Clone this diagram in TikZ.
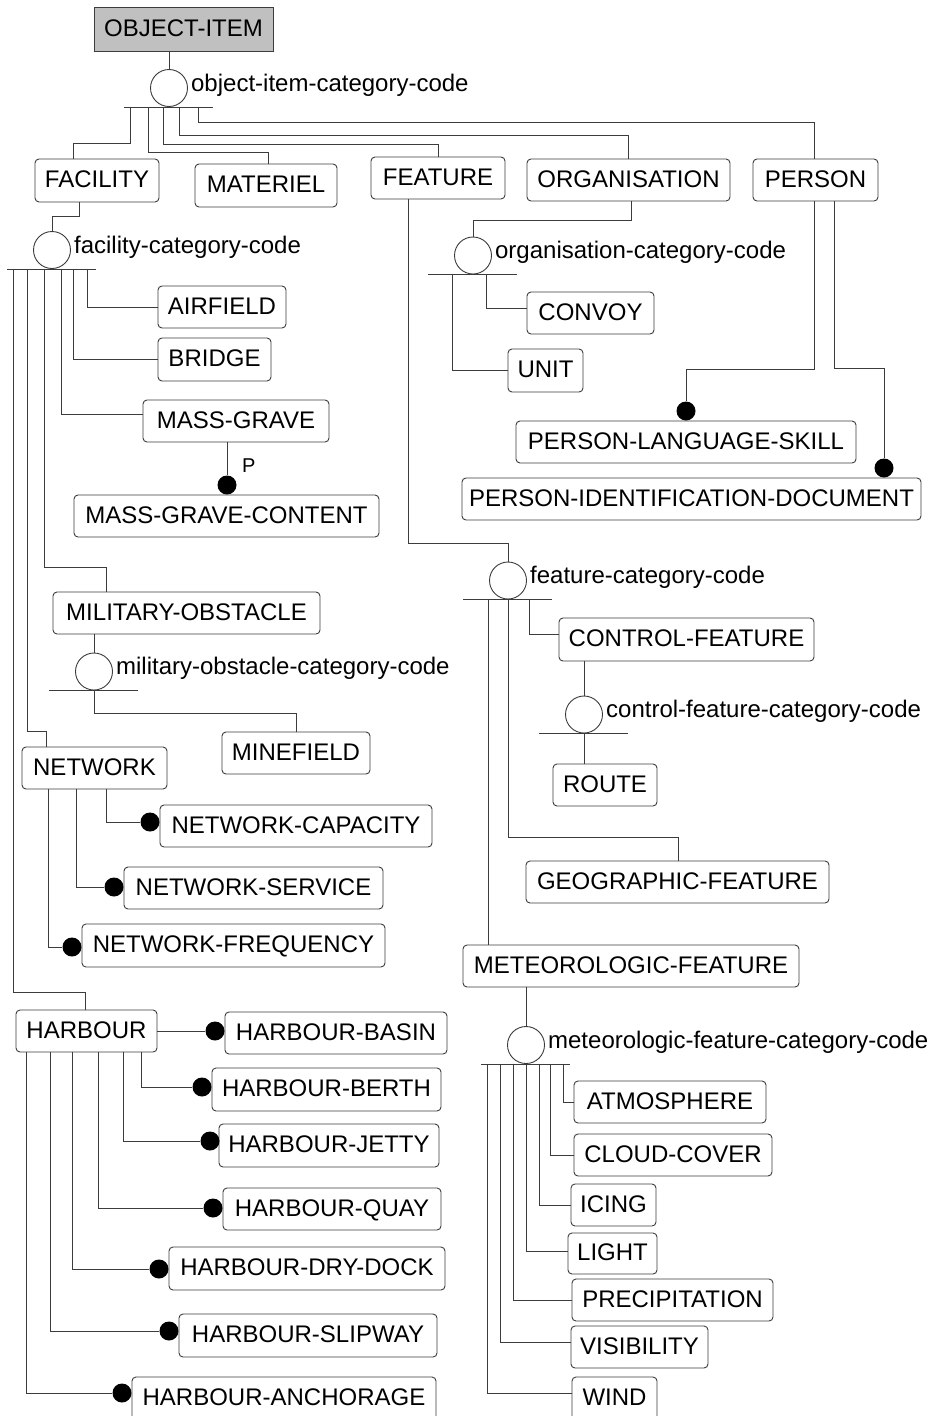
\documentclass[tikz,border=0pt]{standalone}
\usepackage{fontspec}
\setmainfont{Liberation Sans}
\definecolor{edge}{RGB}{60,60,60}
\definecolor{rootfill}{RGB}{192,192,192}
\tikzset{
  conn/.style={draw=edge, line width=0.9pt},
  ent/.style={draw=edge, line width=0.9pt, rounded corners=4pt, inner sep=0pt,
    text height=17.2pt, text depth=3pt, font=\fontsize{24}{28}\selectfont, fill=white},
  root/.style={ent, sharp corners, fill=rootfill},
  catc/.style={circle, draw=edge, line width=0.9pt, minimum size=37pt, inner sep=0pt, fill=white},
  catlabel/.style={anchor=base west, inner sep=0pt, font=\fontsize{24}{28}\selectfont},
  dot/.style={circle, fill=black, minimum size=19pt, inner sep=0pt},
}
% entity box given by its corners: name, x1, y1, x2, y2, text
\newcommand\entitybox[7][ent]{\node[#1, minimum width={#5-#3}, minimum height={#6-#4}] (#2) at ({(#3+#5)/2},{(#4+#6)/2}) {#7};}
% category discriminator: circle, label and bar
\newcommand\catcircle[4]{%
  \node[catc] (#1) at (#2,#3) {};
  \node[catlabel] (#1l) at ([xshift=3pt,yshift=-3pt]#1.east) {#4};
  \draw[conn] ([xshift=-45pt]#1.south) -- ([xshift=44pt]#1.south);}
\begin{document}
\begin{tikzpicture}[x=1pt,y=-1pt]
\useasboundingbox[fill=white] (0,0) rectangle (935,1416);

% entities
\entitybox[root]{obj}{94}{7}{273}{51}{OBJECT-ITEM}
\entitybox{fac}{35}{159}{159}{202}{FACILITY}
\entitybox{mat}{195}{164}{337}{207}{MATERIEL}
\entitybox{fea}{371}{157}{505}{199}{FEATURE}
\entitybox{org}{527}{159}{730}{201}{ORGANISATION}
\entitybox{per}{753}{159}{878}{201}{PERSON}
\entitybox{air}{158}{286}{286}{328}{AIRFIELD}
\entitybox{bri}{158}{338}{271}{381}{BRIDGE}
\entitybox{mg}{143}{400}{329}{442}{MASS-GRAVE}
\entitybox{mgc}{74}{495}{379}{537}{MASS-GRAVE-CONTENT}
\entitybox{con}{527}{292}{654}{334}{CONVOY}
\entitybox{uni}{508}{349}{583}{392}{UNIT}
\entitybox{pls}{516}{421}{856}{463}{PERSON-LANGUAGE-SKILL}
\entitybox{pid}{462}{478}{921}{520}{PERSON-IDENTIFICATION-DOCUMENT}
\entitybox{mo}{53}{592}{320}{634}{MILITARY-OBSTACLE}
\entitybox{mf}{222}{732}{370}{774}{MINEFIELD}
\entitybox{net}{22}{747}{167}{789}{NETWORK}
\entitybox{nc}{160}{805}{432}{847}{NETWORK-CAPACITY}
\entitybox{ns}{124}{867}{383}{909}{NETWORK-SERVICE}
\entitybox{nf}{82}{924}{385}{967}{NETWORK-FREQUENCY}
\entitybox{har}{16}{1010}{157}{1052}{HARBOUR}
\entitybox{hb}{225}{1012}{447}{1054}{HARBOUR-BASIN}
\entitybox{hbe}{212}{1068}{441}{1111}{HARBOUR-BERTH}
\entitybox{hj}{219}{1124}{439}{1167}{HARBOUR-JETTY}
\entitybox{hq}{223}{1188}{441}{1230}{HARBOUR-QUAY}
\entitybox{hdd}{169}{1247}{445}{1290}{HARBOUR-DRY-DOCK}
\entitybox{hs}{179}{1314}{437}{1357}{HARBOUR-SLIPWAY}
\entitybox{ha}{132}{1377}{436}{1420}{HARBOUR-ANCHORAGE}
\entitybox{cf}{559}{618}{814}{661}{CONTROL-FEATURE}
\entitybox{rou}{553}{764}{657}{806}{ROUTE}
\entitybox{gf}{526}{861}{829}{903}{GEOGRAPHIC-FEATURE}
\entitybox{mef}{463}{945}{799}{987}{METEOROLOGIC-FEATURE}
\entitybox{atm}{574}{1081}{766}{1123}{ATMOSPHERE}
\entitybox{cc}{574}{1134}{772}{1176}{CLOUD-COVER}
\entitybox{ici}{571}{1184}{656}{1226}{ICING}
\entitybox{lig}{568}{1233}{657}{1274}{LIGHT}
\entitybox{pre}{572}{1279}{773}{1321}{PRECIPITATION}
\entitybox{vis}{571}{1326}{708}{1368}{VISIBILITY}
\entitybox{win}{572}{1377}{657}{1420}{WIND}

% category discriminators
\catcircle{c1}{169}{88}{object-item-category-code}
\catcircle{c2}{52}{250}{facility-category-code}
\catcircle{c3}{473}{255.5}{organisation-category-code}
\catcircle{c4}{94}{671.5}{military-obstacle-category-code}
\catcircle{c5}{508}{580.5}{feature-category-code}
\catcircle{c6}{584}{714.5}{control-feature-category-code}
\catcircle{c7}{526}{1045}{meteorologic-feature-category-code}

% dependency dots
\node[dot] (dmg) at (227,485) {};
\node[dot] (dpls) at (686,411) {};
\node[dot] (dpid) at (884,468) {};
\node[dot] (dnc) at (150,822) {};
\node[dot] (dns) at (114,887) {};
\node[dot] (dnf) at (72,947) {};
\node[dot] (dhb) at (215,1031) {};
\node[dot] (dhbe) at (202,1087) {};
\node[dot] (dhj) at (210,1141) {};
\node[dot] (dhq) at (213,1208) {};
\node[dot] (dhdd) at (159,1269) {};
\node[dot] (dhs) at (169,1331) {};
\node[dot] (dha) at (122,1393) {};
\node[anchor=base west, inner sep=0pt, font=\fontsize{20}{24}\selectfont] (plab) at (242,472) {P};

% object-item subtypes
\draw[conn] (obj.south-|c1) -- (c1.north);
\draw[conn] (130,0|-c1.south) |- (73,143) -- (73,0|-fac.north);
\draw[conn] (148,0|-c1.south) |- (268,152) -- (268,0|-mat.north);
\draw[conn] (163,0|-c1.south) |- (438,144) -- (438,0|-fea.north);
\draw[conn] (179,0|-c1.south) |- (628,135) -- (628,0|-org.north);
\draw[conn] (198,0|-c1.south) |- (814,122) -- (814,0|-per.north);

% facility subtypes
\draw[conn] (79,0|-fac.south) |- (c2.north|-0,216) -- (c2.north);
\draw[conn] (87,0|-c2.south) |- (air.west);
\draw[conn] (73,0|-c2.south) |- (bri.west);
\draw[conn] (61,0|-c2.south) |- (mg.west|-0,414);
\draw[conn] (44,0|-c2.south) |- (106,567) -- (106,0|-mo.north);
\draw[conn] (27,0|-c2.south) |- (46,731) -- (46,0|-net.north);
\draw[conn] (13,0|-c2.south) |- (85,992) -- (85,0|-har.north);
\draw[conn] (dmg|-mg.south) -- (dmg);

% organisation subtypes
\draw[conn] (631,0|-org.south) |- (c3.north|-0,220) -- (c3.north);
\draw[conn] (486,0|-c3.south) |- (con.west|-0,308);
\draw[conn] (452,0|-c3.south) |- (uni.west);

% person dependents
\draw[conn] (814,0|-per.south) |- (686,369) -- (dpls);
\draw[conn] (834,0|-per.south) |- (884,368) -- (dpid);

% military-obstacle subtypes
\draw[conn] (c4.north|-mo.south) -- (c4.north);
\draw[conn] (c4.south) |- (296,713) -- (296,0|-mf.north);

% network dependents
\draw[conn] (106,0|-net.south) |- (dnc);
\draw[conn] (76,0|-net.south) |- (dns);
\draw[conn] (48,0|-net.south) |- (dnf);

% harbour dependents
\draw[conn] (har.east|-dhb) -- (dhb);
\draw[conn] (141,0|-har.south) |- (dhbe);
\draw[conn] (123,0|-har.south) |- (dhj);
\draw[conn] (98,0|-har.south) |- (dhq);
\draw[conn] (72,0|-har.south) |- (dhdd);
\draw[conn] (50,0|-har.south) |- (dhs);
\draw[conn] (26,0|-har.south) |- (dha);

% feature subtypes
\draw[conn] (408,0|-fea.south) |- (c5.north|-0,543) -- (c5.north);
\draw[conn] (529,0|-c5.south) |- (cf.west|-0,634);
\draw[conn] (508,0|-c5.south) |- (678,837) -- (678,0|-gf.north);
\draw[conn] (488,0|-c5.south) -- (488,0|-mef.north);
\draw[conn] (c6.north|-cf.south) -- (c6.north);
\draw[conn] (c6.south) -- (c6.south|-rou.north);

% meteorologic-feature subtypes
\draw[conn] (c7.north|-mef.south) -- (c7.north);
\draw[conn] (563,0|-c7.south) |- (atm.west);
\draw[conn] (550,0|-c7.south) |- (cc.west);
\draw[conn] (539,0|-c7.south) |- (ici.west);
\draw[conn] (526,0|-c7.south) |- (lig.west|-0,1251);
\draw[conn] (513,0|-c7.south) |- (pre.west);
\draw[conn] (500,0|-c7.south) |- (vis.west|-0,1342);
\draw[conn] (487,0|-c7.south) |- (win.west|-0,1393);
\end{tikzpicture}
\end{document}
